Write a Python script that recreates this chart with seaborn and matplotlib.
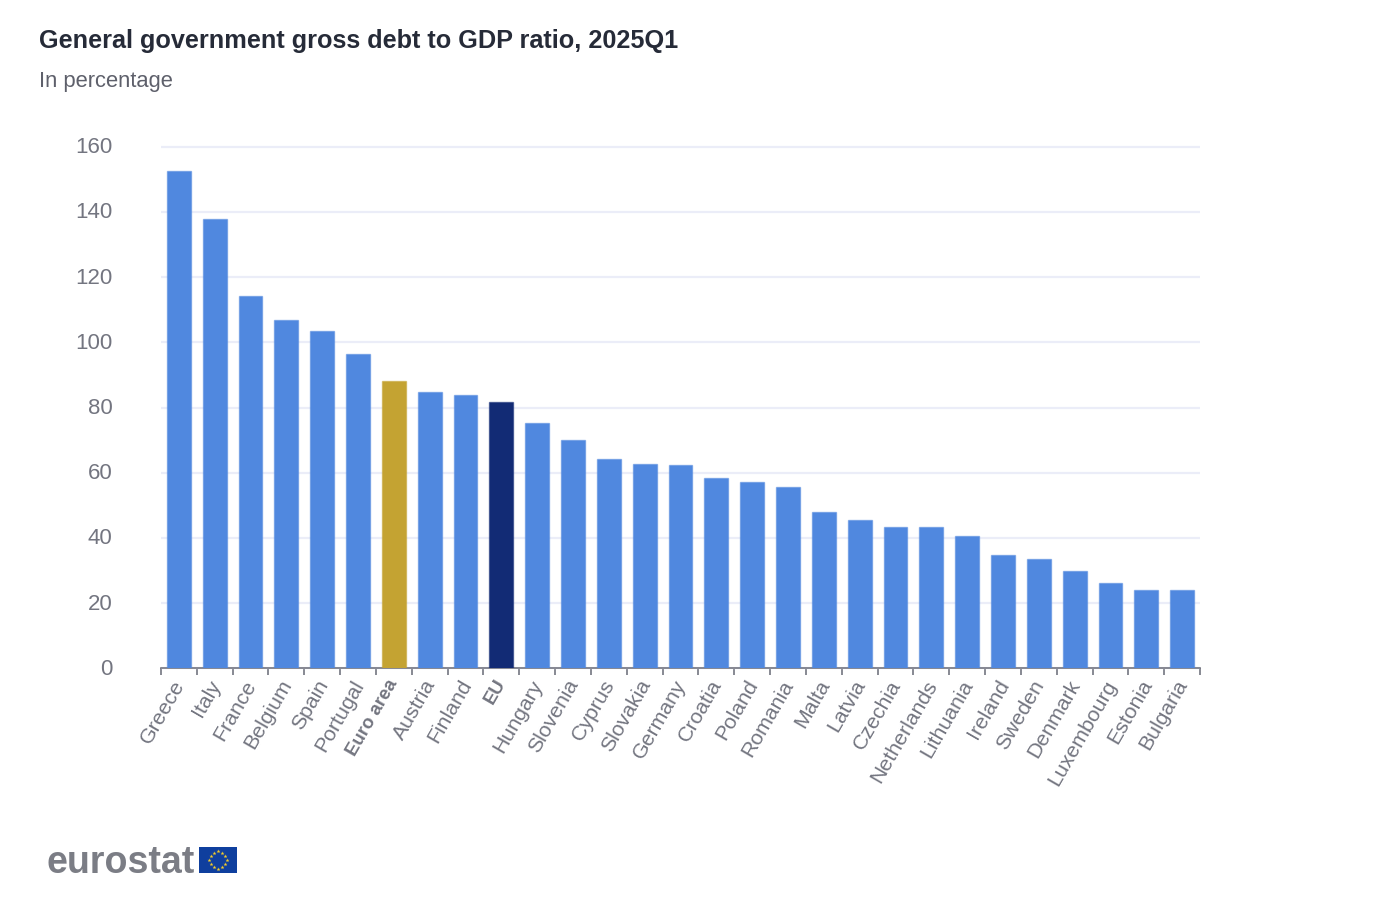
# General government gross debt to GDP ratio, 2025Q1 (eurostat)
import numpy as np
import pandas as pd
import matplotlib
matplotlib.use("Agg")
import matplotlib.pyplot as plt
from matplotlib.colors import to_rgba
from matplotlib.transforms import ScaledTranslation
import seaborn as sns

countries = ["Greece", "Italy", "France", "Belgium", "Spain", "Portugal", "Euro area",
             "Austria", "Finland", "EU", "Hungary", "Slovenia", "Cyprus", "Slovakia",
             "Germany", "Croatia", "Poland", "Romania", "Malta", "Latvia", "Czechia",
             "Netherlands", "Lithuania", "Ireland", "Sweden", "Denmark", "Luxembourg",
             "Estonia", "Bulgaria"]
debt = [152.5, 137.9, 114.1, 106.8, 103.5, 96.4, 88.0, 84.9, 83.7, 81.8, 75.3, 69.9,
        64.3, 62.8, 62.3, 58.4, 57.3, 55.7, 48.1, 45.6, 43.5, 43.2, 40.6, 34.9, 33.5,
        29.9, 26.1, 24.1, 23.9]
y_ticks = [0, 20, 40, 60, 80, 100, 120, 140, 160]

BLUE = "#5088DF"
GOLD = "#C4A332"
NAVY = "#122B75"
GREY = "#737580"
GRID = "#EBEDF8"

sns.set_theme(style="white")
plt.rcParams["font.family"] = ["Liberation Sans", "DejaVu Sans"]

W, H = 1382, 900
fig = plt.figure(figsize=(W / 100, H / 100), dpi=100)
ax = fig.add_axes([161 / W, 1 - 668.3 / H, (1200 - 161) / W, (668.3 - 146.8) / H])

df = pd.DataFrame({"country": countries, "debt": debt})
colors = {c: BLUE for c in countries}
colors["Euro area"] = GOLD
colors["EU"] = NAVY

sns.barplot(data=df, x="country", y="debt", hue="country", palette=colors, legend=False,
            width=0.665, saturation=1, ax=ax, zorder=3)
# bars have a thin lighter rim of their own colour
for bar in ax.patches:
    bar.set_edgecolor(to_rgba(bar.get_facecolor(), 0.55))
    bar.set_linewidth(1)

ax.set_xlim(-0.5, len(countries) - 0.5)
ax.set_ylim(0, 160)
ax.set_xlabel("")
ax.set_ylabel("")

ax.set_yticks(y_ticks)
ax.yaxis.grid(True, color=GRID, lw=1.6, zorder=0)
ax.xaxis.grid(False)
ax.set_axisbelow(True)
for line in ax.get_ygridlines():
    line.set_clip_on(False)
    line.set_solid_capstyle("butt")
ax.tick_params(axis="y", length=0, pad=35, labelsize=16, labelcolor=GREY)
y_shift = ScaledTranslation(0, 1.5 / 100, fig.dpi_scale_trans)
for lab in ax.get_yticklabels():
    lab.set_fontsize(16)
    lab.set_color(GREY)
    lab.set_ha("right")
    lab.set_transform(lab.get_transform() + y_shift)

# ticks sit between the bars, labels stay under the bars
ax.set_xticks(np.arange(len(countries) + 1) - 0.5, minor=True)
ax.tick_params(axis="x", which="minor", length=5, width=1.2, color=GREY, bottom=True)
ax.tick_params(axis="x", which="major", length=0, pad=6)
ax.set_xticks(range(len(countries)))
ax.set_xticklabels(countries, rotation=60, ha="right", va="top", rotation_mode="anchor",
                   fontsize=15.3, color=GREY)
x_shift = ScaledTranslation(-7 / 100, 0, fig.dpi_scale_trans)
for lab in ax.get_xticklabels():
    lab.set_transform(lab.get_transform() + x_shift)
    if lab.get_text() in ("Euro area", "EU"):
        lab.set_fontweight("bold")
        lab.set_fontsize(13.4)

for side in ["top", "right", "left"]:
    ax.spines[side].set_visible(False)
ax.spines["bottom"].set_color(GREY)
ax.spines["bottom"].set_linewidth(1.2)

fig.text(39 / W, 1 - 41 / H, "General government gross debt to GDP ratio, 2025Q1", fontsize=18.15,
         fontweight="bold", color="#262B38", va="center", ha="left")
fig.text(39 / W, 1 - 81 / H, "In percentage", fontsize=15.8, color="#5E606B", va="center", ha="left")

# eurostat logo
fig.text(46 / W, 1 - 863 / H, "eurostat", fontsize=27, fontweight="bold", color="#7B7D85",
         va="center", ha="left")
flag = fig.add_axes([199 / W, 1 - 873 / H, 38 / W, 26 / H])
flag.set_facecolor("#0F3F9E")
flag.set_xlim(-1.46, 1.46)
flag.set_ylim(-1, 1)
flag.set_xticks([])
flag.set_yticks([])
for side in flag.spines.values():
    side.set_visible(False)
angles = np.deg2rad(np.arange(0, 360, 30))
flag.scatter(0.66 * np.cos(angles), 0.66 * np.sin(angles), marker="*", s=9, color="#F5CE2A", linewidths=0)

fig.savefig("out.png", dpi=100, facecolor="white")
